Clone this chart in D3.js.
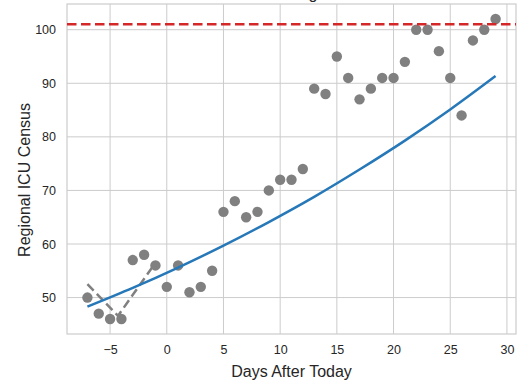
<!DOCTYPE html>
<html>
<head>
<meta charset="utf-8">
<script src="https://cdn.jsdelivr.net/npm/d3@7"></script>
<style>
  html, body { margin: 0; padding: 0; background: #fff; }
  svg { display: block; font-family: "Liberation Sans", Arial, sans-serif; }
</style>
</head>
<body>
<svg id="chart" width="518" height="382"></svg>
<script>
// Observed daily census
const days = [-7, -6, -5, -4, -3, -2, -1, 0, 1, 2, 3, 4, 5, 6, 7, 8, 9, 10, 11, 12,
  13, 14, 15, 16, 17, 18, 19, 20, 21, 22, 23, 24, 25, 26, 27, 28, 29];
const census = [50, 47, 46, 46, 57, 58, 56, 52, 56, 51, 52, 55, 66, 68, 65, 66, 70, 72, 72, 74,
  89, 88, 95, 91, 87, 89, 91, 91, 94, 100, 100, 96, 91, 84, 98, 100, 102];

// Recent-trend segment (dashed gray)
const trendDays = [-7, -4.3, -1];
const trendValues = [52.5, 46.6, 56.5];

// Projected census curve (solid blue)
const fitDays = [-7, -3, 1, 5, 9, 13, 17, 21, 25, 29];
const fitValues = [48.3, 51.8, 55.6, 59.7, 64.1, 68.8, 73.9, 79.3, 85.1, 91.35];

// Capacity threshold
const capacity = 101;

const xTicks = [-5, 0, 5, 10, 15, 20, 25, 30];
const yTicks = [50, 60, 70, 80, 90, 100];

const svg = d3.select("#chart");
const plotLeft = 67, plotRight = 516, plotTop = 4, plotBottom = 334;

const x = d3.scaleLinear().domain([-8.8, 30.8]).range([plotLeft, plotRight]);
const y = d3.scaleLinear().domain([43.2, 104.8]).range([plotBottom, plotTop]);

const textColor = "#262626";
const gridColor = "#cccccc";

// Title (sits mostly above the visible area)
svg.append("text")
  .attr("x", (plotLeft + plotRight) / 2 - 12)
  .attr("y", -1)
  .attr("text-anchor", "middle")
  .attr("font-size", 16)
  .attr("fill", textColor)
  .text("Total ICU Census Against Limit");

// Gridlines
svg.append("g").selectAll("line").data(xTicks).join("line")
  .attr("x1", d => x(d)).attr("x2", d => x(d))
  .attr("y1", plotTop).attr("y2", plotBottom)
  .attr("stroke", gridColor).attr("stroke-width", 1);
svg.append("g").selectAll("line").data(yTicks).join("line")
  .attr("x1", plotLeft).attr("x2", plotRight)
  .attr("y1", d => y(d)).attr("y2", d => y(d))
  .attr("stroke", gridColor).attr("stroke-width", 1);

// Frame
svg.append("rect")
  .attr("x", plotLeft).attr("y", plotTop)
  .attr("width", plotRight - plotLeft).attr("height", plotBottom - plotTop)
  .attr("fill", "none").attr("stroke", gridColor).attr("stroke-width", 1.2);

// Axes (labels only; ticks hidden, as in a whitegrid style)
const xAxis = svg.append("g")
  .attr("transform", `translate(0,${plotBottom})`)
  .call(d3.axisBottom(x).tickValues(xTicks).tickSize(0).tickPadding(11)
    .tickFormat(d => d < 0 ? "\u2212" + Math.abs(d) : d));
const yAxis = svg.append("g")
  .attr("transform", `translate(${plotLeft},0)`)
  .call(d3.axisLeft(y).tickValues(yTicks).tickSize(0).tickPadding(11));
[xAxis, yAxis].forEach(a => {
  a.select(".domain").remove();
  a.selectAll("text")
    .attr("font-size", 12.5)
    .attr("fill", textColor)
    .attr("font-family", "'Liberation Sans', Arial, sans-serif");
});

// Scatter points
svg.append("g").selectAll("circle").data(days).join("circle")
  .attr("cx", d => x(d))
  .attr("cy", (d, i) => y(census[i]))
  .attr("r", 5.2)
  .attr("fill", "#808080");

// Dashed trend segment
svg.append("path")
  .datum(trendDays.map((d, i) => [d, trendValues[i]]))
  .attr("d", d3.line().x(d => x(d[0])).y(d => y(d[1])))
  .attr("fill", "none")
  .attr("stroke", "#808080")
  .attr("stroke-width", 2.5)
  .attr("stroke-dasharray", "9,4.5");

// Projection curve
svg.append("path")
  .datum(fitDays.map((d, i) => [d, fitValues[i]]))
  .attr("d", d3.line().curve(d3.curveMonotoneX).x(d => x(d[0])).y(d => y(d[1])))
  .attr("fill", "none")
  .attr("stroke", "#2678b8")
  .attr("stroke-width", 2.5);

// Capacity line
svg.append("line")
  .attr("x1", plotLeft).attr("x2", plotRight)
  .attr("y1", y(capacity)).attr("y2", y(capacity))
  .attr("stroke", "#d62728")
  .attr("stroke-width", 2.5)
  .attr("stroke-dasharray", "9.5,4.5");

// Axis titles
svg.append("text")
  .attr("x", (plotLeft + plotRight) / 2)
  .attr("y", 377)
  .attr("text-anchor", "middle")
  .attr("font-size", 16)
  .attr("fill", textColor)
  .text("Days After Today");

svg.append("text")
  .attr("transform", `translate(30,${(plotTop + plotBottom) / 2 + 11}) rotate(-90)`)
  .attr("text-anchor", "middle")
  .attr("font-size", 16)
  .attr("fill", textColor)
  .text("Regional ICU Census");
</script>
</body>
</html>
